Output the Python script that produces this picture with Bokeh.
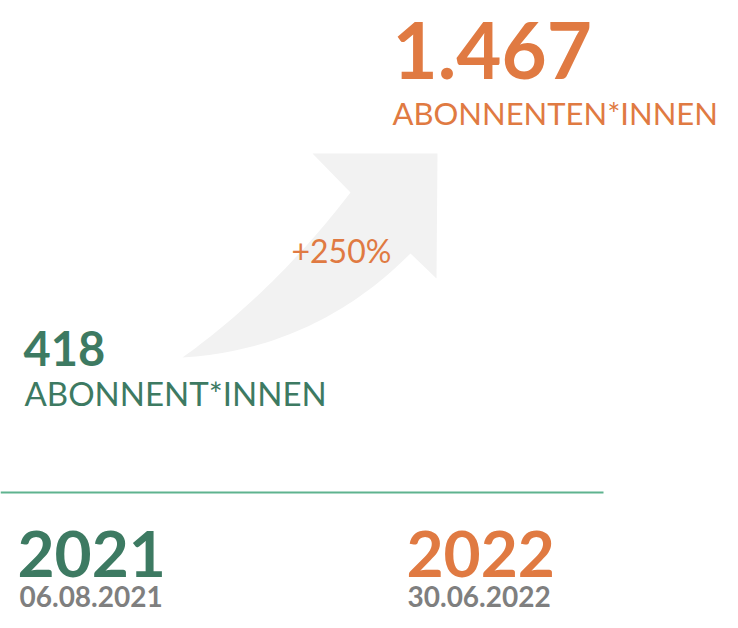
import numpy as np
from bokeh.plotting import figure
from bokeh.models import Range1d
from bokeh.core.properties import value
from bokeh.embed import file_html
from bokeh.resources import INLINE

# ---------------- data ----------------
years = ["2021", "2022"]
dates = ["06.08.2021", "30.06.2022"]
subscribers = [418, 1467]
unit_labels = ["ABONNENT*INNEN", "ABONNENTEN*INNEN"]
growth_label = ["+250%"]

# ---------------- style ----------------
GREEN = "#3d7a62"
ORANGE = "#e07a42"
GREY = "#7f7f7f"
LINE = "#5fb38f"
ARROW = "#f2f2f2"
FONT = "Lato"

def fmt(v):
    return f"{v:,}".replace(",", ".")

def base(y, fs):
    # compensate the renderer's baseline offset
    return y - 0.36 * fs

p = figure(width=722, height=612, output_backend="svg", toolbar_location=None,
           x_range=Range1d(0, 722), y_range=Range1d(612, 0),
           min_border=0, outline_line_color=None)
p.axis.visible = False
p.grid.visible = False
p.background_fill_color = "white"
p.border_fill_color = "white"

# curved arrow (decoration)
def qbez(p0, c, p2, n=40):
    t = np.linspace(0, 1, n)[:, None]
    p0, c, p2 = map(np.array, (p0, c, p2))
    return (1 - t) ** 2 * p0 + 2 * t * (1 - t) * c + t ** 2 * p2

tail = (182, 357)
upper = qbez(tail, (274, 291), (350, 192))
lower = qbez((410, 253), (314, 349), tail)
head = np.array([(312, 153), (437, 153), (436, 278)])
pts = np.vstack([upper, head, lower])
p.patch(pts[:, 0], pts[:, 1], fill_color=ARROW, line_color=None)

# baseline rule
p.line([0, 603], [492, 492], line_color=LINE, line_width=2)

# big numbers
p.text(x=[23, 392], y=[base(365, 47), base(78, 78)], text=[fmt(v) for v in subscribers],
       text_color=[GREEN, ORANGE], text_font=value(FONT), text_font_style="bold",
       text_font_size=["47px", "78px"], text_baseline="alphabetic", text_align="left")
# unit labels
p.text(x=[24, 392], y=[base(404, 33), base(124, 31)], text=unit_labels,
       text_color=[GREEN, ORANGE], text_font=value(FONT),
       text_font_size=["33px", "31px"], text_baseline="alphabetic", text_align="left")
# growth
p.text(x=[291], y=[base(262, 32)], text=growth_label, text_color=ORANGE, text_font=value(FONT),
       text_font_size="32px", text_baseline="alphabetic", text_align="left")
# years
p.text(x=[17, 406], y=[base(577, 64)] * 2, text=years, text_color=[GREEN, ORANGE],
       text_font=value(FONT), text_font_style="bold", text_font_size="64px",
       text_baseline="alphabetic", text_align="left")
# dates
p.text(x=[19, 407], y=[base(606, 28)] * 2, text=dates, text_color=GREY,
       text_font=value(FONT), text_font_style="bold", text_font_size="28px",
       text_baseline="alphabetic", text_align="left")

open("out.html", "w").write(file_html(p, INLINE))
